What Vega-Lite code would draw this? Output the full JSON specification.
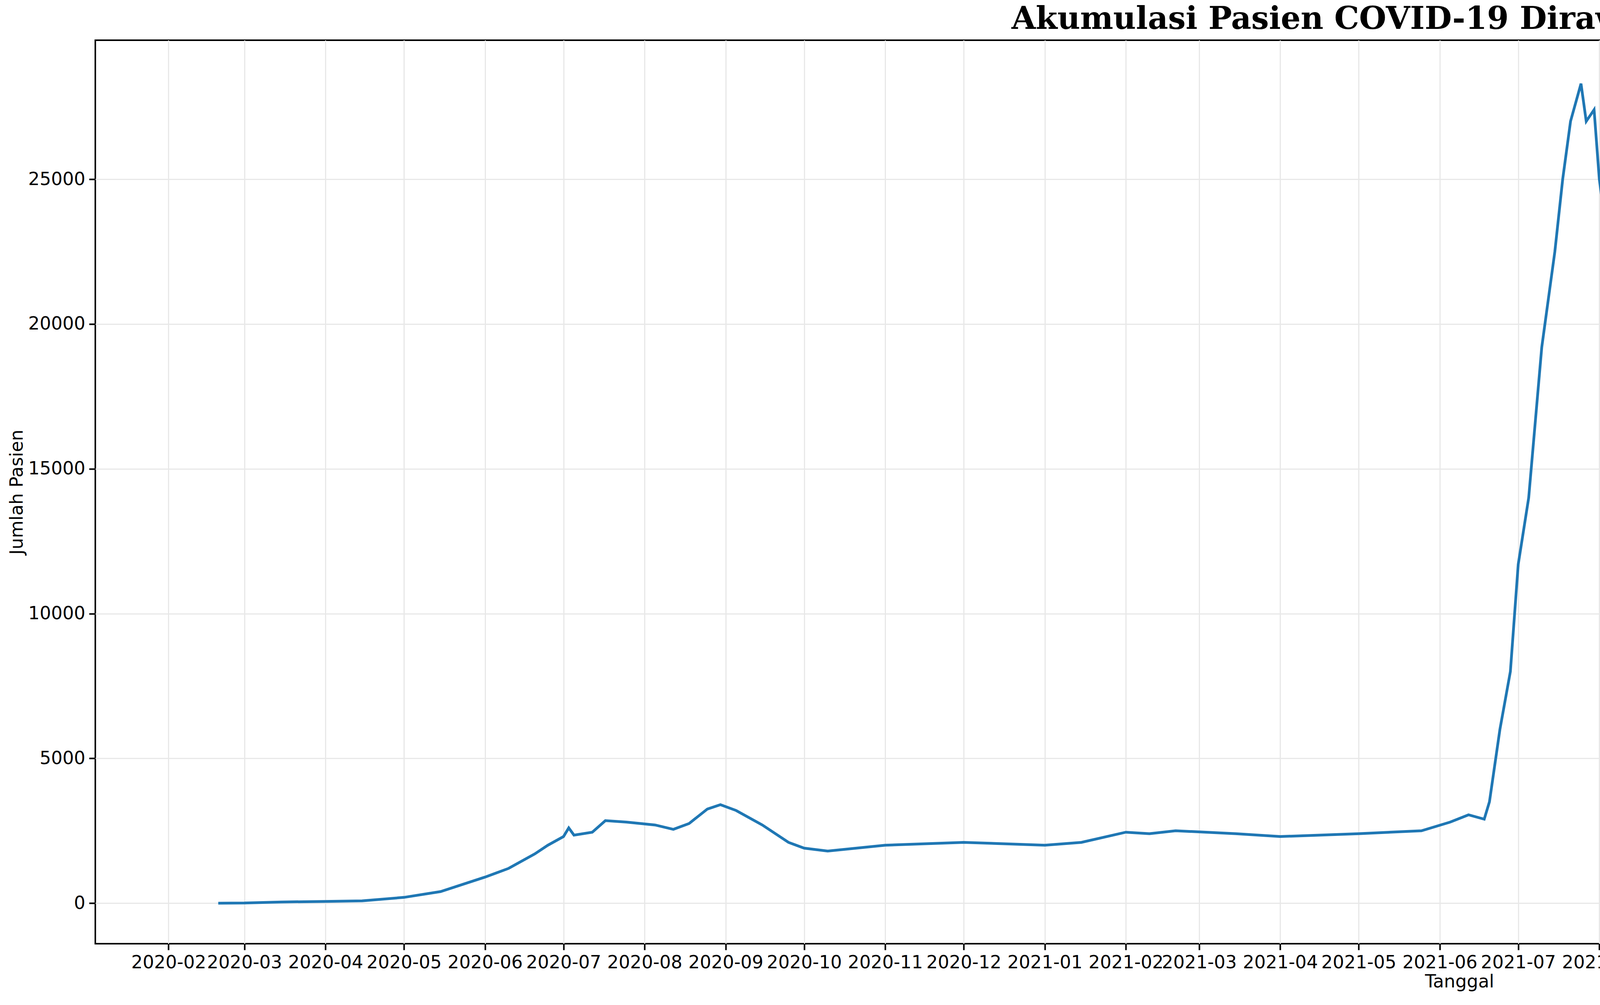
{
  "$schema": "https://vega.github.io/schema/vega-lite/v6.json",
  "width": 6984,
  "height": 2314,
  "padding": {"left": 20, "right": 20, "top": 10, "bottom": 10},
  "background": "white",
  "title": {"text": "Akumulasi Pasien COVID-19 Dirawat atau Diisolasi", "font": "DejaVu Serif", "fontSize": 80, "fontWeight": "bold", "color": "black", "offset": 12},
  "config": {"view": {"stroke": "black", "strokeWidth": 4}},
  "data": {"values": [
    {"d": "2020-02-20", "v": 0}, {"d": "2020-03-01", "v": 5}, {"d": "2020-03-15", "v": 40},
    {"d": "2020-04-01", "v": 60}, {"d": "2020-04-15", "v": 80}, {"d": "2020-05-01", "v": 200},
    {"d": "2020-05-15", "v": 400}, {"d": "2020-06-01", "v": 900}, {"d": "2020-06-10", "v": 1200},
    {"d": "2020-06-20", "v": 1700}, {"d": "2020-06-25", "v": 2000}, {"d": "2020-07-01", "v": 2300},
    {"d": "2020-07-03", "v": 2600}, {"d": "2020-07-05", "v": 2350}, {"d": "2020-07-12", "v": 2450},
    {"d": "2020-07-17", "v": 2850}, {"d": "2020-07-25", "v": 2800}, {"d": "2020-08-05", "v": 2700},
    {"d": "2020-08-12", "v": 2550}, {"d": "2020-08-18", "v": 2750}, {"d": "2020-08-25", "v": 3250},
    {"d": "2020-08-30", "v": 3400}, {"d": "2020-09-05", "v": 3200}, {"d": "2020-09-15", "v": 2700},
    {"d": "2020-09-25", "v": 2100}, {"d": "2020-10-01", "v": 1900}, {"d": "2020-10-10", "v": 1800},
    {"d": "2020-11-01", "v": 2000}, {"d": "2020-12-01", "v": 2100}, {"d": "2021-01-01", "v": 2000},
    {"d": "2021-01-15", "v": 2100}, {"d": "2021-02-01", "v": 2450}, {"d": "2021-02-10", "v": 2400},
    {"d": "2021-02-20", "v": 2500}, {"d": "2021-03-15", "v": 2400}, {"d": "2021-04-01", "v": 2300},
    {"d": "2021-05-01", "v": 2400}, {"d": "2021-05-25", "v": 2500}, {"d": "2021-06-05", "v": 2800},
    {"d": "2021-06-12", "v": 3050}, {"d": "2021-06-18", "v": 2900}, {"d": "2021-06-20", "v": 3500},
    {"d": "2021-06-24", "v": 6000}, {"d": "2021-06-28", "v": 8000}, {"d": "2021-07-01", "v": 11700},
    {"d": "2021-07-05", "v": 14000}, {"d": "2021-07-10", "v": 19200}, {"d": "2021-07-15", "v": 22500},
    {"d": "2021-07-18", "v": 25000}, {"d": "2021-07-21", "v": 27000}, {"d": "2021-07-25", "v": 28300},
    {"d": "2021-07-27", "v": 27000}, {"d": "2021-07-30", "v": 27400}, {"d": "2021-08-01", "v": 25000},
    {"d": "2021-08-05", "v": 22300}, {"d": "2021-08-09", "v": 20000}, {"d": "2021-08-14", "v": 19000},
    {"d": "2021-08-17", "v": 16000}, {"d": "2021-08-18", "v": 15200}, {"d": "2021-08-20", "v": 10200},
    {"d": "2021-08-23", "v": 9200}, {"d": "2021-08-25", "v": 4500}, {"d": "2021-08-28", "v": 3800},
    {"d": "2021-09-03", "v": 3000}, {"d": "2021-09-08", "v": 2000}, {"d": "2021-09-15", "v": 1400},
    {"d": "2021-09-23", "v": 900}, {"d": "2021-09-29", "v": 700}, {"d": "2021-10-15", "v": 450},
    {"d": "2021-11-01", "v": 200}, {"d": "2021-11-15", "v": 120}, {"d": "2021-12-01", "v": 80},
    {"d": "2021-12-15", "v": 70}, {"d": "2022-01-01", "v": 60}, {"d": "2022-01-10", "v": 150},
    {"d": "2022-01-14", "v": 400}, {"d": "2022-01-21", "v": 1500}, {"d": "2022-01-26", "v": 3500},
    {"d": "2022-01-29", "v": 6000}, {"d": "2022-02-02", "v": 11000}, {"d": "2022-02-05", "v": 15500},
    {"d": "2022-02-09", "v": 21000}, {"d": "2022-02-11", "v": 23700}, {"d": "2022-02-13", "v": 22000},
    {"d": "2022-02-15", "v": 22600}, {"d": "2022-02-17", "v": 21800}, {"d": "2022-02-20", "v": 20800},
    {"d": "2022-02-23", "v": 15500}, {"d": "2022-02-26", "v": 12000}, {"d": "2022-03-01", "v": 7000},
    {"d": "2022-03-05", "v": 4500}, {"d": "2022-03-08", "v": 3200}, {"d": "2022-03-14", "v": 1700},
    {"d": "2022-03-21", "v": 1100}, {"d": "2022-03-26", "v": 700}, {"d": "2022-04-15", "v": 400},
    {"d": "2022-05-01", "v": 200}, {"d": "2022-06-01", "v": 100}, {"d": "2022-06-15", "v": 80},
    {"d": "2022-07-01", "v": 200}, {"d": "2022-07-15", "v": 400}, {"d": "2022-08-01", "v": 750},
    {"d": "2022-08-10", "v": 900}, {"d": "2022-08-20", "v": 800}, {"d": "2022-09-01", "v": 650},
    {"d": "2022-09-10", "v": 450}, {"d": "2022-09-15", "v": 450}
  ]},
  "mark": {"type": "line", "color": "#1f77b4", "strokeWidth": 7},
  "encoding": {
    "x": {"field": "d", "type": "temporal", "title": "Tanggal",
      "scale": {"domain": ["2020-01-04", "2022-11-12"]},
      "axis": {"format": "%Y-%m", "tickCount": {"interval": "month", "step": 1}, "labelAngle": 0,
        "labelFontSize": 46, "titleFontSize": 46, "titleFontWeight": "normal", "labelColor": "black", "titleColor": "black",
        "labelFont": "DejaVu Sans", "titleFont": "DejaVu Sans", "tickColor": "black", "tickSize": 16, "tickWidth": 4,
        "domain": false, "gridColor": "#e8e8e8", "gridWidth": 3, "labelPadding": 10, "labelOverlap": false, "labelLimit": 400}},
    "y": {"field": "v", "type": "quantitative", "title": "Jumlah Pasien",
      "scale": {"domain": [-1400, 29800], "nice": false, "zero": false},
      "axis": {"values": [0, 5000, 10000, 15000, 20000, 25000], "format": "d",
        "labelFontSize": 46, "titleFontSize": 46, "titleFontWeight": "normal", "labelColor": "black", "titleColor": "black",
        "labelFont": "DejaVu Sans", "titleFont": "DejaVu Sans", "tickColor": "black", "tickSize": 16, "tickWidth": 4,
        "domain": false, "gridColor": "#e8e8e8", "gridWidth": 3, "labelPadding": 10}}
  }
}
